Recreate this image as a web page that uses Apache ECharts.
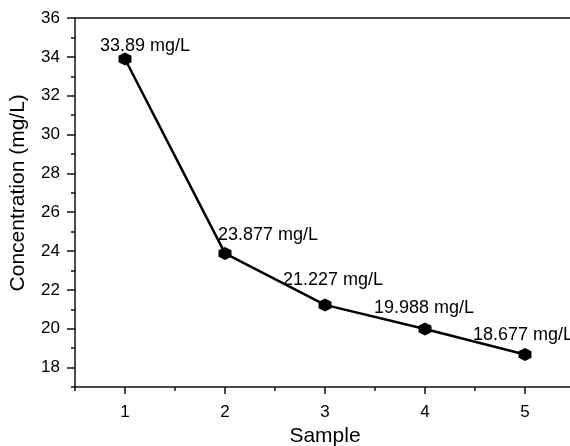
<!DOCTYPE html>
<html>
<head>
<meta charset="utf-8">
<script src="https://cdn.jsdelivr.net/npm/echarts@6/dist/echarts.min.js"></script>
<style>
  html, body { margin: 0; padding: 0; background: #fff; }
  #chart { width: 570px; height: 446px; }
</style>
</head>
<body>
<div id="chart"></div>
<script>
const samples = [1, 2, 3, 4, 5]
const concentration = [33.89, 23.877, 21.227, 19.988, 18.677]
const labelShift = [[20, -13], [43, -18], [8, -25], [-1, -21], [-2, -19]]

const font = 'Liberation Sans, Arial, sans-serif'
const ink = '#111'

let chart = echarts.init(document.getElementById('chart'))
chart.setOption({
    animation: false,
    grid: [
        { left: 75, top: 18, width: 500, height: 369, outerBoundsMode: 'none' },
        { left: 75, top: 18, width: 500, height: 18 * 369 / 19, outerBoundsMode: 'none' },
        { left: 125, top: 18, width: 400, height: 369, outerBoundsMode: 'none' }
    ],
    xAxis: [
        {
            // main x, minor ticks every 0.5
            gridIndex: 0, type: 'value', min: 0.5, max: 5.5, interval: 0.5,
            axisLine: { lineStyle: { color: ink, width: 1.5 } },
            axisTick: { length: 4, lineStyle: { color: ink, width: 1.5 } },
            axisLabel: { show: false },
            splitLine: { show: false }
        },
        {
            // frame top line
            gridIndex: 0, type: 'value', position: 'top', min: 0.5, max: 5.5, interval: 0.5,
            axisLine: { lineStyle: { color: ink, width: 1.5 } },
            axisTick: { show: false },
            axisLabel: { show: false },
            splitLine: { show: false }
        },
        { gridIndex: 1, type: 'value', show: false, min: 0, max: 1 },
        {
            gridIndex: 2, type: 'value', min: 1, max: 5, interval: 1,
            axisLine: { show: false },
            axisTick: { length: 7, lineStyle: { color: ink, width: 1.5 } },
            axisLabel: { margin: 17, color: '#000', fontSize: 17, fontFamily: font },
            splitLine: { show: false },
            name: 'Sample', nameLocation: 'middle', nameGap: 39,
            nameTextStyle: { color: '#000', fontSize: 21, fontFamily: font }
        }
    ],
    yAxis: [
        {
            gridIndex: 0, type: 'value', min: 17, max: 36, interval: 1,
            axisLine: { show: true, lineStyle: { color: ink, width: 1.5 } },
            axisTick: { show: true, length: 4, lineStyle: { color: ink, width: 1.5 } },
            axisLabel: { show: false },
            splitLine: { show: false }
        },
        {
            gridIndex: 1, type: 'value', min: 18, max: 36, interval: 2,
            axisLine: { show: false },
            axisTick: { show: true, length: 8, lineStyle: { color: ink, width: 1.5 } },
            axisLabel: { margin: 15, color: '#000', fontSize: 17, fontFamily: font },
            splitLine: { show: false },
            name: 'Concentration (mg/L)', nameLocation: 'middle', nameGap: 46,
            nameTextStyle: { color: '#000', fontSize: 21, fontFamily: font }
        },
        { gridIndex: 2, type: 'value', show: false, min: 0, max: 1 }
    ],
    series: [{
        type: 'line',
        xAxisIndex: 0,
        yAxisIndex: 0,
        data: samples.map((s, i) => ({
            value: [s, concentration[i]],
            label: { offset: labelShift[i] }
        })),
        symbol: 'path://M0,-10 L8.66,-5 L8.66,5 L0,10 L-8.66,5 L-8.66,-5 Z',
        symbolSize: 13,
        itemStyle: { color: '#000' },
        lineStyle: { color: '#000', width: 2.5 },
        label: {
            show: true,
            position: 'inside',
            color: '#000',
            fontSize: 18,
            fontFamily: font,
            formatter: p => p.value[1] + ' mg/L'
        }
    }]
})
</script>
</body>
</html>
